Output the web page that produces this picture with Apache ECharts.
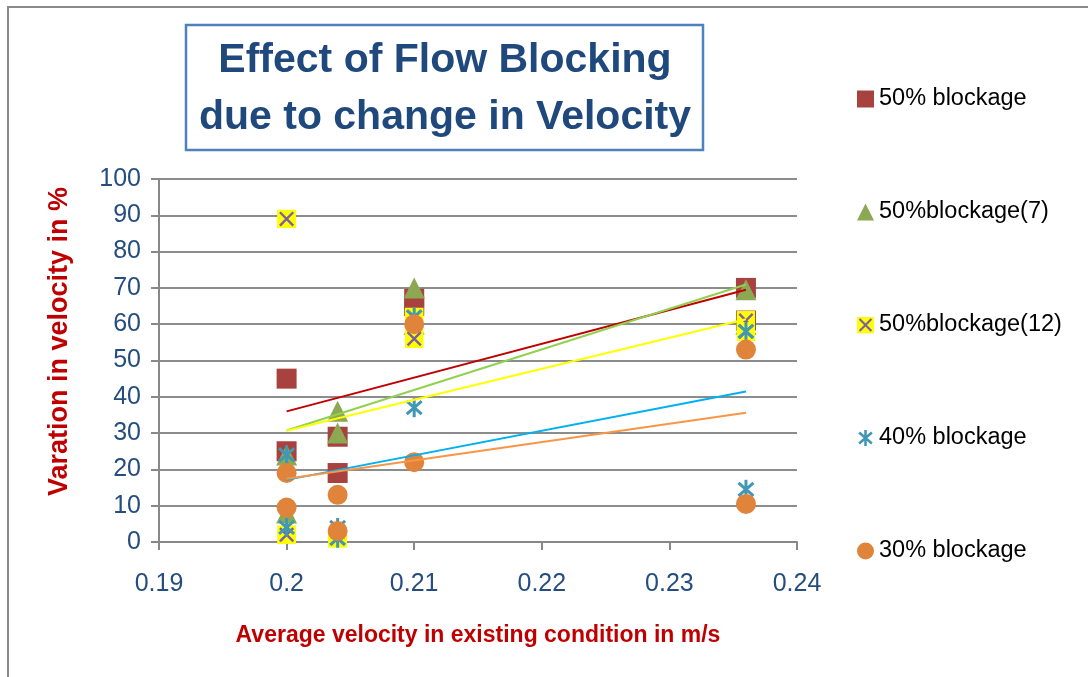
<!DOCTYPE html>
<html>

	<head>
		<meta charset="utf-8">
		<title>Effect of Flow Blocking</title>
		<script src="https://cdn.jsdelivr.net/npm/echarts@6/dist/echarts.min.js" type="text/javascript" charset="utf-8"></script>
		<style>
			html, body { margin: 0; padding: 0; background: #fff; }
		</style>
	</head>

	<body>
		<div id="main" style="width: 1088px;height:677px;"></div>
		<script type="text/javascript">
			// average velocity (x) - every series was measured at the same velocities
			const velocity = [0.2, 0.2, 0.204, 0.204, 0.21, 0.21, 0.236, 0.236];

			// variation in velocity in %
			const blockage50 = [45, 25, 29, 19, 67, 65, 70, 61];
			const blockage50_7 = [24, 8, 36, 30, 70, 60, 69.5, 60];
			const blockage50_12 = [89, 2, 1.5, 1, 62, 56, 61, 58];
			const blockage40 = [24, 4, 4, 1, 62, 37, 58, 14.5];
			const blockage30 = [19, 9.5, 13, 3, 60, 22, 53, 10.5];

			const seriesNames = ['50% blockage', '50%blockage(7)', '50%blockage(12)', '40% blockage', '30% blockage'];
			const xTicks = [0.19, 0.2, 0.21, 0.22, 0.23, 0.24];
			const yTicks = [0, 10, 20, 30, 40, 50, 60, 70, 80, 90, 100];

			// markers that need two colours are drawn as small svg images
			const svgUrl = s => 'image://data:image/svg+xml;charset=utf-8,' + encodeURIComponent(s);
			const crossMark = svgUrl('<svg xmlns="http://www.w3.org/2000/svg" width="40" height="40">' +
				'<rect width="40" height="40" fill="#FFFF00"/>' +
				'<path d="M6 6L34 34M34 6L6 34" stroke="#7B5FA0" stroke-width="5"/></svg>');
			const starMark = svgUrl('<svg xmlns="http://www.w3.org/2000/svg" width="40" height="40">' +
				'<path d="M5 7L35 33M35 7L5 33M20 1L20 39" stroke="#4198B5" stroke-width="6"/></svg>');

			const pairs = ys => velocity.map((v, i) => [v, ys[i]]);

			// least squares line, like the Excel linear trendline
			function trend(ys) {
				const n = velocity.length;
				const mx = velocity.reduce((a, b) => a + b, 0) / n;
				const my = ys.reduce((a, b) => a + b, 0) / n;
				let sxy = 0, sxx = 0;
				velocity.forEach((x, i) => {
					sxy += (x - mx) * (ys[i] - my);
					sxx += (x - mx) * (x - mx);
				});
				const k = sxy / sxx;
				const x0 = Math.min(...velocity), x1 = Math.max(...velocity);
				return [[x0, my + k * (x0 - mx)], [x1, my + k * (x1 - mx)]];
			}

			const scatter = (name, ys, symbol, color, size) => ({
				name: name,
				type: 'scatter',
				data: pairs(ys),
				symbol: symbol,
				symbolSize: size,
				itemStyle: { color: color, opacity: 1 },
				z: 2
			});
			const trendLine = (ys, color) => ({
				type: 'line',
				data: trend(ys),
				showSymbol: false,
				symbol: 'none',
				lineStyle: { color: color, width: 2 },
				silent: true,
				z: 3
			});

			let myChart = echarts.init(document.getElementById('main'));
			myChart.setOption({
				animation: false,
				backgroundColor: '#fff',
				legend: {
					data: seriesNames,
					orient: 'vertical',
					left: 857,
					top: 87,
					padding: 0,
					itemWidth: 17,
					itemHeight: 17,
					itemGap: 89,
					textStyle: { fontSize: 23.5, color: '#000', fontFamily: 'Liberation Sans' }
				},
				grid: { left: 159, top: 179, right: 291, bottom: 135 },
				xAxis: {
					type: 'value',
					min: xTicks[0],
					max: xTicks[xTicks.length - 1],
					interval: 0.01,
					name: 'Average velocity in existing condition in m/s',
					nameLocation: 'middle',
					nameGap: 82,
					nameTextStyle: { color: '#C00000', fontWeight: 'bold', fontSize: 23, fontFamily: 'Liberation Sans' },
					axisLine: { show: true, lineStyle: { color: '#888', width: 2 } },
					axisTick: { show: true, length: 8, lineStyle: { color: '#888', width: 2 } },
					axisLabel: { margin: 30, fontSize: 25, color: '#254E7F', fontFamily: 'Liberation Sans' },
					splitLine: { show: false }
				},
				yAxis: {
					type: 'value',
					min: yTicks[0],
					max: yTicks[yTicks.length - 1],
					interval: 10,
					name: 'Varation in velocity in %',
					nameLocation: 'middle',
					nameGap: 86,
					nameTextStyle: { color: '#C00000', fontWeight: 'bold', fontSize: 27, fontFamily: 'Liberation Sans', padding: [0, 0, 0, 38] },
					axisLine: { show: true, lineStyle: { color: '#888', width: 2 } },
					axisTick: { show: true, length: 8, lineStyle: { color: '#888', width: 2 } },
					axisLabel: { margin: 18, fontSize: 25, color: '#254E7F', fontFamily: 'Liberation Sans' },
					splitLine: { show: true, lineStyle: { color: '#8c8c8c', width: 2 } }
				},
				graphic: [
					{
						// outer chart border
						type: 'rect',
						shape: { x: 8, y: 7, width: 1100, height: 700 },
						style: { fill: 'none', stroke: '#8a8a8a', lineWidth: 2 },
						silent: true
					},
					{
						type: 'rect',
						shape: { x: 186, y: 25, width: 517, height: 125 },
						style: { fill: '#fff', stroke: '#4F81BD', lineWidth: 2.5 },
						silent: true
					},
					{
						type: 'text',
						x: 445,
						y: 89,
						style: {
							text: 'Effect of Flow Blocking\ndue to change in Velocity',
							textAlign: 'center',
							textVerticalAlign: 'middle',
							fontSize: 41,
							fontWeight: 'bold',
							fontFamily: 'Liberation Sans',
							lineHeight: 57,
							fill: '#1F497D'
						}
					}
				],
				series: [
					scatter(seriesNames[0], blockage50, 'rect', '#A8423F', 20),
					scatter(seriesNames[1], blockage50_7, 'triangle', '#8DA852', 21),
					scatter(seriesNames[2], blockage50_12, crossMark, '#FFFF00', 19),
					scatter(seriesNames[3], blockage40, starMark, '#4198B5', 20),
					scatter(seriesNames[4], blockage30, 'circle', '#E0843C', 20),
					trendLine(blockage50, '#C00000'),
					trendLine(blockage50_7, '#92D050'),
					trendLine(blockage50_12, '#FFFF00'),
					trendLine(blockage40, '#00B0F0'),
					trendLine(blockage30, '#F79646')
				]
			});
		</script>
	</body>

</html>
